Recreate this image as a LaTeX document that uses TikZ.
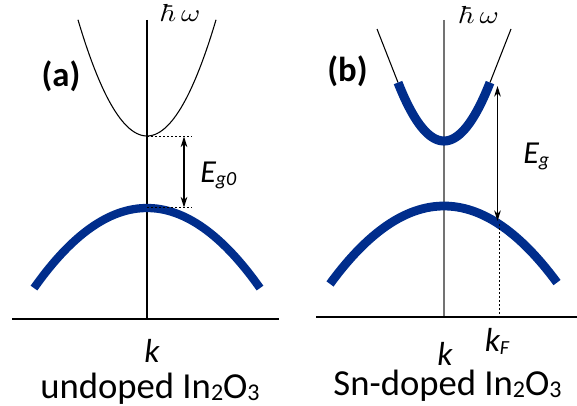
\documentclass[tikz,border=0pt]{standalone}
\usepackage{fontspec}
\setmainfont{Carlito}
\usetikzlibrary{arrows.meta}
\definecolor{bandblue}{RGB}{0,45,140}
\newcommand\lowsub[1]{\raisebox{-0.06em}{\fontsize{18}{18}\selectfont #1}}
\newcommand\hwsym{\scalebox{2.2}[1.85]{$\hbar\,\omega$}}
\begin{document}
\begin{tikzpicture}[x=0.75pt,y=-0.75pt,
  thinline/.style={line width=0.8pt,black},
  axisgray/.style={line width=0.8pt,black!55},
  bandline/.style={line width=6.2pt,bandblue},
  dotline/.style={line width=0.7pt,dash pattern=on 1.5pt off 1.5pt},
  gaparrow/.style={line width=0.8pt,{Stealth[length=8pt,width=5pt]}-{Stealth[length=8pt,width=5pt]}},
  lab/.style={inner sep=0pt,font=\fontsize{26}{26}\selectfont\bfseries},
  captext/.style={inner sep=0pt,anchor=base,font=\fontsize{27.5}{28}\selectfont},
  kvar/.style={inner sep=0pt,anchor=base,font=\fontsize{25}{25}\selectfont\itshape},
  evar/.style={inner sep=0pt,anchor=base west,font=\fontsize{24}{24}\selectfont\itshape},
  hw/.style={inner sep=0pt,anchor=base}]
\useasboundingbox (0,0) rectangle (577,406);
% ---------- panel (a) ----------
\coordinate (aAxTop) at (147,20);
\coordinate (aAxBot) at (147,319);
\coordinate (aHL) at (12,319);
\coordinate (aHR) at (279,319);
\draw[thinline] (aAxTop) -- (aAxBot);
\draw[thinline] (aHL) -- (aHR);
\draw[thinline] plot[smooth,samples=60,domain=78:216] (\x,{136-0.0244*(\x-147)^2});
\draw[bandline] plot[smooth,samples=60,domain=34:260] (\x,{208+0.00627*(\x-147)^2});
\coordinate (aCB) at (147,136.5);
\coordinate (aVB) at (147,207.5);
\coordinate (aCBr) at (192,136.5);
\coordinate (aVBr) at (192,207.5);
\coordinate (aArTop) at (184,136.5);
\coordinate (aArBot) at (184,207.5);
\draw[dotline] (aCB) -- (aCBr);
\draw[dotline] (aVB) -- (aVBr);
\draw[gaparrow] (aArTop) -- (aArBot);
\node[evar] (aEg) at (200,182) {E\raisebox{-0.12em}{\fontsize{15}{15}\selectfont g0}};
\node[lab] (aLab) at (61,76.5) {(a)};
\node[hw] (aHw) at (181.5,22) {\hwsym};
\node[kvar] (aK) at (152,362) {k};
\node[captext] (aCap) at (150,398) {undoped In\lowsub{2}O\lowsub{3}};
% ---------- panel (b) ----------
\coordinate (bAxTop) at (444,20);
\coordinate (bAxBot) at (444,317);
\coordinate (bHL) at (316,317);
\coordinate (bHR) at (577,317);
\draw[axisgray] (bAxTop) -- (bAxBot);
\draw[thinline] (bHL) -- (bHR);
\coordinate (bCL) at (398,82.5);
\coordinate (bCR) at (490,82.5);
\coordinate (bTL) at (377,29);
\coordinate (bTR) at (511,29);
\draw[thinline] (bCL) -- (bTL);
\draw[thinline] (bCR) -- (bTR);
\draw[bandline,line width=6.8pt] plot[smooth,samples=60,domain=398:490] (\x,{141-0.0276*(\x-444)^2});
\draw[bandline,line width=6.6pt] plot[smooth,samples=60,domain=330:557] (\x,{206+0.006*(\x-444)^2});
\coordinate (bKF) at (499,224);
\coordinate (bKFax) at (499,317);
\draw[dotline] (bKF) -- (bKFax);
\coordinate (bArTop) at (497.5,86);
\coordinate (bArBot) at (497.5,221);
\draw[gaparrow] (bArTop) -- (bArBot);
\node[evar] (bEg) at (523,163) {E\raisebox{-0.12em}{\fontsize{15}{15}\selectfont g}};
\node[lab] (bLab) at (347.5,71.5) {(b)};
\node[hw] (bHw) at (480,24) {\hwsym};
\node[kvar] (bK) at (445,365) {k};
\node[kvar] (bKFlab) at (497,351) {k\raisebox{-0.1em}{\fontsize{15}{15}\selectfont F}};
\node[captext] (bCap) at (447.5,395) {Sn-doped In\lowsub{2}O\lowsub{3}};
\end{tikzpicture}
\end{document}
